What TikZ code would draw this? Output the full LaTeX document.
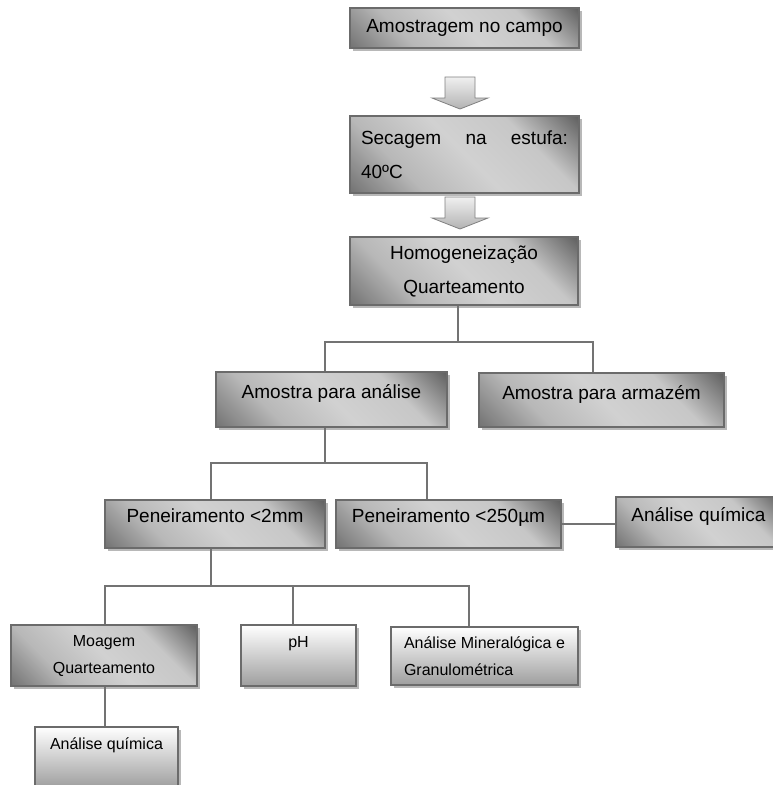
\documentclass[tikz,border=0pt]{standalone}
\usepackage{fontspec}
\setmainfont{Liberation Sans}
\usetikzlibrary{shadows}
\usetikzlibrary{calc}
\pgfdeclareverticalshading{darkbox}{100bp}{color(0bp)=(black!60); color(14bp)=(black!56);
  color(32bp)=(black!28); color(50bp)=(black!18); color(68bp)=(black!22); color(86bp)=(black!64); color(100bp)=(black!68)}
\tikzset{lg/.style={font=\fontsize{19}{34}\selectfont}}
\tikzset{sm/.style={font=\fontsize{16}{27}\selectfont}}
\tikzset{box/.style={draw=black!58, line width=1.3pt, inner sep=3pt,
    drop shadow={shadow xshift=2.5pt, shadow yshift=-2.5pt, fill=black!28, opacity=1}}}
\tikzset{dark/.style={box, shade, shading=darkbox, shading angle=-45}}
\tikzset{light/.style={box, top color=white, bottom color=black!38}}
\tikzset{raised/.style={text depth=16pt}}
\tikzset{conn/.style={draw=black!55, line width=1.3pt}}
\tikzset{bigarrow/.style={draw=black!50, line width=0.8pt, top color=black!6, bottom color=black!30}}
% block arrow pointing down: #1 = centre x, #2 = top y
\newcommand{\blockdown}[2]{%
  \draw[bigarrow] (#1-15,#2) -- (#1+15,#2) -- (#1+15,#2+21) -- (#1+28,#2+21)
    -- (#1,#2+32) -- (#1-28,#2+21) -- (#1-15,#2+21) -- cycle;}

\begin{document}
\begin{tikzpicture}[x=1pt, y=-1pt]
  \useasboundingbox (0,0) rectangle (772,785);
  % preparation chain
  \node[dark, lg, minimum width=229pt, minimum height=40pt] (amostragem) at (464.5,28) {Amostragem no campo};
  \node[dark, lg, minimum width=229pt, minimum height=77pt, text width=207pt, align=justify] (secagem) at (464.5,154.5) {Secagem na estufa:\linebreak 40ºC};
  \node[dark, lg, minimum width=228pt, minimum height=68pt, align=center] (homog) at (464,271) {Homogeneização\\Quarteamento};
  \blockdown{460}{77}
  \blockdown{460}{197}
  % split of the sample
  \node[dark, lg, raised, minimum width=231pt, minimum height=55pt] (analise) at (331.5,399.5) {Amostra para análise};
  \node[dark, lg, raised, minimum width=245pt, minimum height=54pt] (armazem) at (601.5,400) {Amostra para armazém};
  \node[dark, lg, raised, minimum width=220pt, minimum height=48pt] (pen2) at (215,524) {Peneiramento <2mm};
  \node[dark, lg, raised, minimum width=225pt, minimum height=48pt] (pen250) at (448.5,524) {Peneiramento <250µm};
  \node[dark, lg, raised, minimum width=165pt, minimum height=50pt] (quimA) at (698.5,522) {Análise química};
  % analyses
  \node[dark, sm, minimum width=186pt, minimum height=61pt, align=center] (moagem) at (104,655.5) {Moagem\\Quarteamento};
  \node[light, sm, minimum width=115pt, minimum height=61pt, align=center] (ph) at (298.5,655.5) {pH\\~};
  \node[light, sm, minimum width=187pt, minimum height=58pt, align=left] (mineral) at (484.5,656) {Análise Mineralógica e\\Granulométrica};
  \node[light, sm, minimum width=143pt, minimum height=61pt, align=center] (quimB) at (106.5,757.5) {Análise química\\~};
  % tree lines
  \coordinate (bus1l) at (325,342);
  \coordinate (bus1r) at (593,342);
  \coordinate (bus2l) at (211,463);
  \coordinate (bus2r) at (427,463);
  \coordinate (bus3l) at (105,586);
  \coordinate (bus3m) at (293,586);
  \coordinate (bus3r) at (469,586);
  \draw[conn] ([xshift=-6pt]homog.south) |- (bus1l) -- (analise.north -| bus1l);
  \draw[conn] (bus1l) -- (bus1r) -- (armazem.north -| bus1r);
  \draw[conn] (analise.south -| bus1l) |- (bus2l) -- (pen2.north -| bus2l);
  \draw[conn] (bus2l) -- (bus2r) -- (pen250.north -| bus2r);
  \draw[conn] (pen250.east) -- (pen250.east -| quimA.west);
  \draw[conn] (pen2.south -| bus2l) -- (bus2l |- bus3l);
  \draw[conn] (moagem.north -| bus3l) |- (bus3r) -- (mineral.north -| bus3r);
  \draw[conn] (bus3m) -- (ph.north -| bus3m);
  \draw[conn] (moagem.south -| bus3l) -- (quimB.north -| bus3l);
\end{tikzpicture}
\end{document}
